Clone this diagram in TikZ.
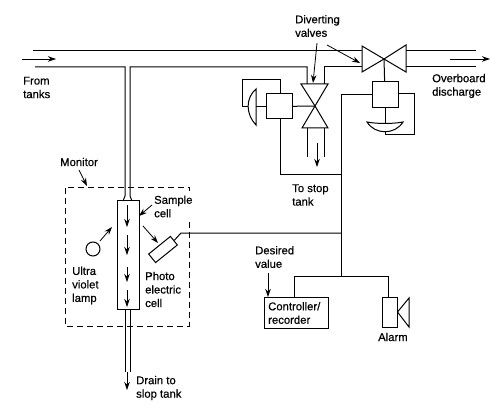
\documentclass[tikz,border=0pt]{standalone}
\usepackage{fontspec}
\setmainfont[FakeBold=0.5]{Liberation Sans}
\usetikzlibrary{arrows.meta}
\tikzset{
  label/.style={anchor=west, align=left, inner sep=0pt, font=\fontsize{11.3}{13.5}\selectfont},
  flow/.style={-{Stealth[length=8pt,width=5.5pt]}, line width=0.8pt},
  pipe/.style={line width=1pt},
  signal/.style={line width=1pt},
  unit/.style={draw, line width=1pt, inner sep=0pt, fill=white},
}
\begin{document}
\begin{tikzpicture}[x=1pt, y=-1pt]
  \useasboundingbox (0,0) rectangle (502,411);
  % main line and overboard valve
  \coordinate (topin) at (33,51);
  \coordinate (botin) at (35,67);
  \coordinate (mainvalve) at (384,59);
  \coordinate (stopvalve) at (315,106);
  \draw[pipe] (topin) -- (362,51);
  \draw[pipe] (botin) -- (125,67) -- (125,196) -- (123,201);
  \draw[pipe] (132,201) -- (130,196) -- (130,67) -- (307,67) -- (307,84);
  \draw[pipe] (324,84) -- (324,67) -- (362,67);
  \draw[pipe] (406,51) -- (476,51);
  \draw[pipe] (406,67) -- (476,67);
  \draw[pipe] (mainvalve) -- (362,46) -- (362,72) -- cycle;
  \draw[pipe] (mainvalve) -- (406,45) -- (406,72) -- cycle;
  \draw[flow] (22,59) -- (56,59);
  \draw[flow] (450,59) -- (490,59);
  % valve to stop tank
  \draw[pipe] (stopvalve) -- (301,84) -- (328,84) -- cycle;
  \draw[pipe] (stopvalve) -- (302,128) -- (328,128) -- cycle;
  \draw[pipe] (307,128) -- (307,157);
  \draw[pipe] (324,128) -- (324,157);
  \draw[flow] (317,143) -- (317,167);
  % actuators
  \node[unit, minimum width=26pt, minimum height=25pt] (stopbox) at (279,106.5) {};
  \node[unit, minimum width=26pt, minimum height=26pt] (mainbox) at (385,95) {};
  \draw[signal] (mainvalve) -- (mainbox);
  \draw[signal] (stopbox) -- (stopvalve);
  \draw[pipe] (256,89) .. controls (245.5,98) and (245.5,114) .. (256,125) -- cycle;
  \draw[pipe] (367,122) .. controls (375,135) and (395,135) .. (403,122) .. controls (392,124) and (378,124) .. cycle;
  \draw[signal] (stopbox.west) -- (256,106.5);
  \draw[signal] (248,106.5) -- (242,106.5) -- (242,79.5) -- (280,79.5) -- (280,94);
  \draw[signal] (mainbox.south) -- (385,123);
  \draw[signal] (385,132) -- (385,135) -- (414,135) -- (414,94) -- (398,94);
  % signal line
  \coordinate (junctop) at (341,175);
  \coordinate (juncell) at (341,233);
  \coordinate (juncbot) at (341,276);
  \draw[signal] (372,95) -- (341,95) -- (juncbot);
  \draw[signal] (280,119) -- (280,175) -- (junctop);
  % sample cell and lower pipe
  \node[unit, fill=none, minimum width=22pt, minimum height=108pt] (samplecell) at (128,255) {};
  \draw[pipe] (125,309) -- (125,372);
  \draw[pipe] (130,309) -- (130,372);
  \draw[flow] (127,205) -- (127,227);
  \draw[flow] (127,235) -- (127,255);
  \draw[flow] (127,267) -- (127,282);
  \draw[flow] (127,290) -- (127,307);
  \draw[flow] (127,372) -- (127,390);
  % monitor
  \draw[line width=0.9pt, dash pattern=on 6pt off 4pt] (189,222) -- (189,326) -- (65,326) -- (65,187) -- (189,187) -- (189,191);
  \node[unit, fill=none, circle, minimum size=14pt] (lamp) at (93,249) {};
  \node[unit, fill=none, minimum width=28pt, minimum height=11pt, rotate=39] (photocell) at (163,249.5) {};
  \draw[signal] (photocell.east) -- (181,233) -- (juncell);
  % controller and alarm
  \node[unit, minimum width=64pt, minimum height=31pt] (controller) at (296,312.5) {};
  \node[unit, minimum width=15pt, minimum height=30pt] (alarmbox) at (389.5,312) {};
  \draw[pipe] (alarmbox.east) -- (409,298) -- (409,327) -- cycle;
  \draw[signal] (294,297) -- (294,276) -- (388,276) -- (388,297);
  % labels
  \node[label] (divertlabel) at (295,26) {Diverting\\valves};
  \node[label] (overlabel) at (432,86) {Overboard\\discharge};
  \node[label] (fromlabel) at (23,87.5) {From\\tanks};
  \node[label] (stoplabel) at (292,195) {To stop\\tank};
  \node[label] (monitorlabel) at (60,162) {Monitor};
  \node[label] (samplelabel) at (154,206.5) {Sample\\cell};
  \node[label] (photolabel) at (145,289.5) {Photo\\electric\\cell};
  \node[label] (uvlabel) at (72,285.5) {Ultra\\violet\\lamp};
  \node[label] (drainlabel) at (136,388) {Drain to\\slop tank};
  \node[label] (desiredlabel) at (255,257) {Desired\\value};
  \node[label] (controllabel) at (268,313) {Controller/\\recorder};
  \node[label] (alarmlabel) at (378,337) {Alarm};
  % pointers
  \draw[flow] (317,43) -- (313,83);
  \draw[flow] (327,45) -- (360,63);
  \draw[flow] (79,170) -- (87,186);
  \draw[flow] (152,205) -- (139,216);
  \draw[flow] (100,241) -- (112,227);
  \draw[flow] (143,226) -- (158,243);
  \draw[flow] (268,273) -- (268,297);
\end{tikzpicture}
\end{document}
